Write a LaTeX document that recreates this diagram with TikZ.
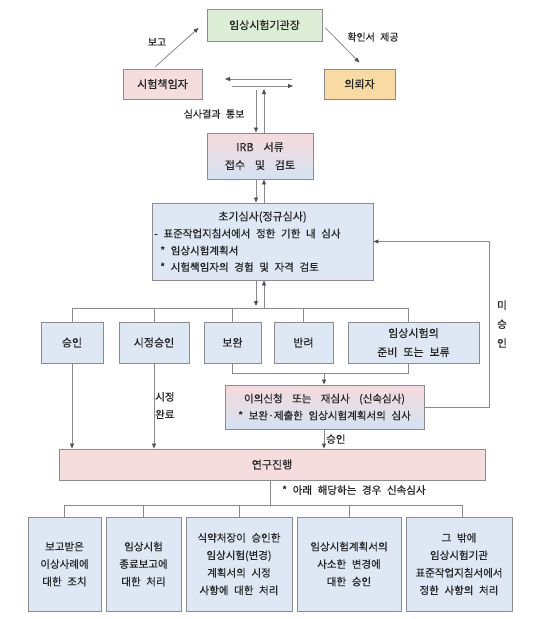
\documentclass[tikz,border=0pt]{standalone}
\usepackage{fontspec}
\setmainfont[WordSpace=2.4,FakeBold=0.5]{Noto Sans CJK KR}
\newfontfamily\widefont[WordSpace=4,FakeBold=0.5]{Noto Sans CJK KR}
\usetikzlibrary{arrows.meta,calc}
\definecolor{bordc}{HTML}{8C8C8C}
\definecolor{linec}{HTML}{8A8A8A}
\definecolor{tipc}{HTML}{505050}
\definecolor{txtc}{HTML}{262626}
\definecolor{greenf}{HTML}{DDEED6}
\definecolor{pinkf}{HTML}{F5DCDD}
\definecolor{orangef}{HTML}{F8DAA2}
\definecolor{bluef}{HTML}{DEE8F4}
\definecolor{gradtop}{HTML}{F6DADC}
\definecolor{gradbot}{HTML}{D3E2F3}
\begin{document}
\begin{tikzpicture}[x=1pt,y=-1pt,
  font=\fontsize{10.5}{17.5}\selectfont,
  big/.style={font=\fontsize{11}{18}\selectfont},
  box/.style={draw=bordc, line width=0.9pt, inner sep=0pt, align=center, text=txtc},
  bluebox/.style={box, fill=bluef},
  gradbox/.style={box, top color=gradtop, bottom color=gradbot},
  lbl/.style={inner sep=0pt, text=txtc},
  initline/.style={lbl, anchor=west, font=\fontsize{10.5}{17}\selectfont},
  conn/.style={draw=linec, line width=0.8pt},
  arr/.style={conn, -{Triangle[length=5pt,width=4pt,color=tipc]}}
]
\fill[white] (0,0) rectangle (539,619);
\useasboundingbox (0,0) rectangle (539,619);

% top part
\node[box, big, fill=greenf, minimum width=115pt, minimum height=32pt] (boss) at (264.5,25) {임상시험기관장};
\node[box, big, fill=pinkf, minimum width=79pt, minimum height=30pt] (pi) at (162.5,84) {시험책임자};
\node[box, big, fill=orangef, minimum width=71pt, minimum height=30pt] (sp) at (359.5,84) {의뢰자};
\node[gradbox, minimum width=106pt, minimum height=46pt, font=\widefont\fontsize{11}{18}\selectfont] (irb) at (260,156) {IRB 서류\\접수 및 검토};

% initial review
\node[bluebox, minimum width=221pt, minimum height=77pt] (init) at (262.5,241.5) {};
\node[lbl, big] (t1) at (262.5,217) {초기심사(정규심사)};
\node[initline] (t2) at (154,233.5) {- 표준작업지침서에서 정한 기한 내 심사};
\node[initline] (t3) at (160,250.5) {* 임상시험계획서};
\node[initline] (t4) at (160,267) {* 시험책임자의 경험 및 자격 검토};

% decisions
\node[bluebox, big, minimum width=62pt, minimum height=41pt] (d1) at (72,342.5) {승인};
\node[bluebox, big, minimum width=70pt, minimum height=41pt] (d2) at (154,342.5) {시정승인};
\node[bluebox, big, minimum width=57pt, minimum height=41pt] (d3) at (232.5,342.5) {보완};
\node[bluebox, big, minimum width=59pt, minimum height=41pt] (d4) at (303.5,342.5) {반려};
\node[bluebox, big, minimum width=131pt, minimum height=41pt, font=\fontsize{11}{19}\selectfont] (d5) at (413.5,342.5) {임상시험의\\준비 또는 보류};

% appeal and proceed
\node[gradbox, minimum width=199pt, minimum height=44pt, font=\fontsize{10.5}{17}\selectfont] (appeal) at (324.5,407) {{\widefont 이의신청 또는 재심사 (신속심사)}\\* 보완·제출한 임상시험계획서의 심사};
\node[box, big, fill=pinkf, minimum width=426pt, minimum height=31pt] (proceed) at (272,464.5) {연구진행};

% bottom boxes
\node[bluebox, minimum width=73pt, minimum height=94pt] (b1) at (64.5,564) {보고받은\\이상사례에\\대한 조치};
\node[bluebox, minimum width=75pt, minimum height=94pt] (b2) at (143.5,564) {임상시험\\종료보고에\\대한 처리};
\node[bluebox, minimum width=106pt, minimum height=94pt] (b3) at (239,564) {식약처장이 승인한\\임상시험(변경)\\계획서의 시정\\사항에 대한 처리};
\node[bluebox, minimum width=104pt, minimum height=94pt] (b4) at (349,564) {임상시험계획서의\\사소한 변경에\\대한 승인};
\node[bluebox, minimum width=106pt, minimum height=94pt] (b5) at (459,564) {그 밖에\\임상시험기관\\표준작업지침서에서\\정한 사항의 처리};

% coordinates
\coordinate (h1s) at (292,79);
\coordinate (h1e) at (225,79);
\coordinate (h2s) at (232,86);
\coordinate (h2e) at (293,86);
\coordinate (vd) at (256,90);
\coordinate (vu) at (264,89);
\coordinate (busA) at (256,308);
\coordinate (busB) at (264,308);
\coordinate (d5x) at (408,308);
\coordinate (jn) at (324,373);
\coordinate (rt) at (489,407);
\coordinate (stem) at (270,505);
\coordinate (b5x) at (462,505);

% connectors top
\draw[arr] ([xshift=-7pt,yshift=2pt]pi.north) -- ([xshift=-8pt,yshift=-3pt]boss.west);
\draw[arr] ([xshift=3pt,yshift=-3pt]boss.east) -- ([yshift=6pt]sp.north);
\draw[arr] (h1s) -- (h1e);
\draw[arr] (h2s) -- (h2e);
\draw[arr] (vd) -- (vd |- irb.north);
\draw[arr] (vu |- irb.north) -- (vu);
\draw[arr] (vd |- irb.south) -- (vd |- init.north);
\draw[arr] (vu |- init.north) -- (vu |- irb.south);
\draw[arr] (vd |- init.south) -- ([yshift=2pt]busA);
\draw[arr] (busB) -- (vu |- init.south);

% bus to decisions
\draw[conn] (d1.north |- busA) -- (d5x);
\draw[conn] (d1.north |- busA) -- (d1.north);
\draw[conn] (d2.north |- busA) -- (d2.north);
\draw[conn] (d3.north |- busA) -- (d3.north);
\draw[conn] (d4.north |- busA) -- (d4.north);
\draw[conn] (d5x) -- (d5x |- d5.north);

% to appeal
\draw[conn] (d3.south) -- (d3.south |- jn) -- (d5x |- jn) -- (d5x |- d5.south);
\draw[arr] (jn) -- (jn |- appeal.north);
\draw[arr] (appeal.east) -- (rt) -- (rt |- init.east) -- (init.east);

% to proceed
\draw[arr] (jn |- appeal.south) -- (jn |- proceed.north);
\draw[arr] (d1.south) -- (d1.south |- proceed.north);
\draw[arr] (d2.south) -- (d2.south |- proceed.north);

% proceed to bottom
\draw[conn] (stem |- proceed.south) -- (stem);
\draw[conn] (b1.north |- stem) -- (b5x);
\draw[conn] (b1.north |- stem) -- (b1.north);
\draw[conn] (b2.north |- stem) -- (b2.north);
\draw[conn] (b3.north |- stem) -- (b3.north);
\draw[conn] (b4.north |- stem) -- (b4.north);
\draw[conn] (b5x) -- (b5x |- b5.north);

% labels
\node[lbl, font=\fontsize{10}{12}\selectfont] (lb1) at (157,42) {보고};
\node[lbl, font=\fontsize{10}{12}\selectfont] (lb2) at (373,37) {확인서 제공};
\node[lbl, font=\fontsize{10}{12}\selectfont] (lb3) at (214,114) {심사결과 통보};
\node[lbl, anchor=west, align=left] (lb4) at (155,405.5) {시정\\완료};
\node[lbl, anchor=west] (lb5) at (326,439) {승인};
\node[lbl, anchor=west, font=\fontsize{10.5}{12}\selectfont] (lb6) at (282,490) {* 아래 해당하는 경우 신속심사};
\node[lbl, align=center, font=\fontsize{10.5}{19}\selectfont] (lb7) at (502,324) {미\\승\\인};
\end{tikzpicture}
\end{document}
